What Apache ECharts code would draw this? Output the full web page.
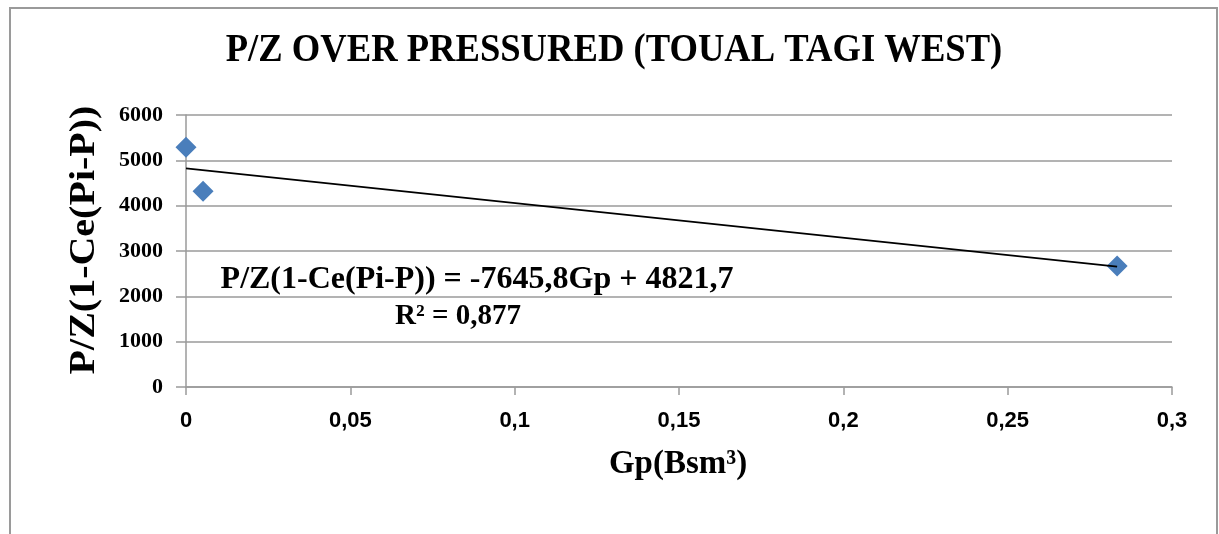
<!DOCTYPE html>
<html>
<head>
<meta charset="utf-8">
<script src="https://cdn.jsdelivr.net/npm/echarts@6/dist/echarts.min.js"></script>
<style>html,body{margin:0;padding:0;background:#fff}#c{width:1219px;height:534px}</style>
</head>
<body>
<div id="c"></div>
<script>
// Data
const gpValues = [0, 0.0052, 0.2833];
const pzValues = [5290, 4320, 2670];
const trendX = [0, 0.2833];
const trendY = [4821.7, 2655.7];
const xTicks = [0, 0.05, 0.1, 0.15, 0.2, 0.25, 0.3];
const yTicks = [0, 1000, 2000, 3000, 4000, 5000, 6000];
const titleText = 'P/Z OVER PRESSURED (TOUAL TAGI WEST)';
const xName = 'Gp(Bsm³)';
const yName = 'P/Z(1-Ce(Pi-P))';
const eqText = 'P/Z(1-Ce(Pi-P)) = -7645,8Gp + 4821,7';
const r2Text = 'R² = 0,877';

const serif = '"Liberation Serif","Times New Roman",serif';
const sans = '"Liberation Sans",Arial,sans-serif';

const chart = echarts.init(document.getElementById('c'));
chart.setOption({
  animation: false,
  backgroundColor: '#fff',
  grid: {left: 186, right: 47, top: 115, bottom: 147, containLabel: false},
  xAxis: {
    type: 'value', min: xTicks[0], max: xTicks[xTicks.length - 1], interval: 0.05,
    axisLine: {show: true, onZero: false, lineStyle: {color: '#9a9a9a', width: 1.5}},
    axisTick: {show: true, length: 8, lineStyle: {color: '#9a9a9a', width: 1.5}},
    splitLine: {show: false},
    axisLabel: {
      margin: 23, fontFamily: sans, fontWeight: 'bold', fontSize: 22, color: '#000',
      formatter: v => String(parseFloat(v.toFixed(2))).replace('.', ',')
    }
  },
  yAxis: {
    type: 'value', min: yTicks[0], max: yTicks[yTicks.length - 1], interval: 1000,
    axisLine: {show: true, lineStyle: {color: '#9a9a9a', width: 1.5}},
    axisTick: {show: true, length: 10, lineStyle: {color: '#9a9a9a', width: 1.5}},
    splitLine: {show: true, lineStyle: {color: '#9a9a9a', width: 1.5}},
    axisLabel: {margin: 23, fontFamily: serif, fontWeight: 'bold', fontSize: 22, color: '#000',
      formatter: v => String(v)}
  },
  series: [
    {
      type: 'line', data: trendX.map((x, i) => [x, trendY[i]]),
      showSymbol: false, symbol: 'none',
      lineStyle: {color: '#000', width: 1.8}, z: 3
    },
    {
      type: 'scatter', data: gpValues.map((x, i) => [x, pzValues[i]]),
      symbol: 'diamond', symbolSize: 21,
      itemStyle: {color: '#4A7EBB', opacity: 1}, z: 2
    }
  ],
  graphic: [
    {type: 'rect', shape: {x: 10, y: 8, width: 1207, height: 540},
     style: {fill: 'none', stroke: '#9a9a9a', lineWidth: 2}, silent: true},
    {type: 'text', x: 614, y: 51, scaleX: 0.915,
     style: {text: titleText, font: 'bold 40px ' + serif, fill: '#000', align: 'center', verticalAlign: 'middle'}},
    {type: 'text', x: 84, y: 240, rotation: Math.PI / 2, scaleY: 0.92,
     style: {text: yName, font: 'bold 40px ' + serif, fill: '#000', align: 'center', verticalAlign: 'middle'}},
    {type: 'text', x: 678, y: 464,
     style: {text: xName, font: 'bold 33px ' + serif, fill: '#000', align: 'center', verticalAlign: 'middle'}},
    {type: 'text', x: 477, y: 280,
     style: {text: eqText, font: 'bold 32px ' + serif, fill: '#000', align: 'center', verticalAlign: 'middle'}},
    {type: 'text', x: 458, y: 317,
     style: {text: r2Text, font: 'bold 29px ' + serif, fill: '#000', align: 'center', verticalAlign: 'middle'}}
  ]
});
</script>
</body>
</html>
